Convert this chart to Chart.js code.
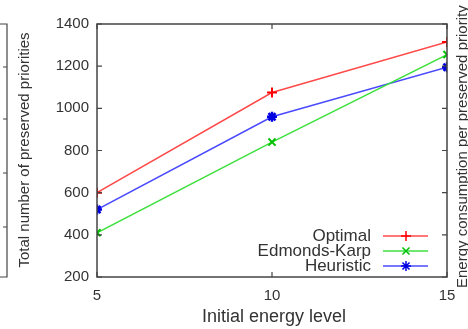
<!DOCTYPE html>
<html>
<head>
<meta charset="utf-8">
<script src="https://cdn.jsdelivr.net/npm/chart.js@4.4.1/dist/chart.umd.min.js"></script>
<style>
  html, body { margin: 0; padding: 0; background: #fff; }
  #wrap { width: 468px; height: 329px; }
</style>
</head>
<body>
<div id="wrap"><canvas id="energy-chart" width="468" height="329"></canvas></div>
<script>
// values
const energyLevels = [5, 10, 15];
const optimal = [600, 1075, 1315];
const edmondsKarp = [410, 840, 1255];
const heuristic = [520, 960, 1195];
const yTicks = [200, 400, 600, 800, 1000, 1200, 1400];

const FONT = '"Liberation Sans", Arial, Helvetica, sans-serif';
const INK = '#333';

// gnuplot-ish frame: border, inward ticks on all four sides, titles, legend
const framePlugin = {
  id: 'frame',
  afterDraw(chart) {
    const c = chart.ctx;
    const a = chart.chartArea;
    const xs = chart.scales.x, ys = chart.scales.y;
    c.save();
    c.strokeStyle = '#444';
    c.lineWidth = 1.5;
    c.strokeRect(a.left, a.top, a.right - a.left, a.bottom - a.top);

    // inward ticks
    c.lineWidth = 1.2;
    c.beginPath();
    yTicks.forEach(v => {
      const y = ys.getPixelForValue(v);
      c.moveTo(a.left, y); c.lineTo(a.left + 5, y);
      c.moveTo(a.right, y); c.lineTo(a.right - 5, y);
    });
    energyLevels.forEach(v => {
      const x = xs.getPixelForValue(v);
      c.moveTo(x, a.bottom); c.lineTo(x, a.bottom - 5);
      c.moveTo(x, a.top); c.lineTo(x, a.top + 5);
    });
    c.stroke();

    // edge of the neighbouring panel on the left
    c.beginPath();
    c.moveTo(0, a.top); c.lineTo(7, a.top); c.lineTo(7, a.bottom); c.lineTo(0, a.bottom);
    [67, 119, 173, 227].forEach(y => { c.moveTo(7, y); c.lineTo(3, y); });
    c.stroke();

    c.fillStyle = INK;
    // x title
    c.font = '18px ' + FONT;
    c.textAlign = 'center';
    c.textBaseline = 'middle';
    c.fillText('Initial energy level', (a.left + a.right) / 2 + 2, 317);

    // y title
    c.font = '15px ' + FONT;
    c.save();
    c.translate(25, 150);
    c.rotate(-Math.PI / 2);
    c.fillText('Total number of preserved priorities', 0, 0);
    c.restore();

    // title of the neighbouring panel, cut at the right edge
    c.save();
    c.translate(463, 288);
    c.rotate(-Math.PI / 2);
    c.textAlign = 'left';
    c.fillText('Energy consumption per preserved priority', 0, 0);
    c.restore();

    // legend, text right-aligned with the sample on the right
    const rows = [236, 251, 266];
    c.font = '17px ' + FONT;
    chart.data.datasets.forEach((ds, i) => {
      const y = rows[i];
      c.fillStyle = INK;
      c.textAlign = 'right';
      c.fillText(ds.label, 371, y);
      c.strokeStyle = ds.borderColor;
      c.lineWidth = ds.borderWidth;
      c.beginPath(); c.moveTo(383, y); c.lineTo(428, y); c.stroke();
      c.strokeStyle = ds.pointBorderColor;
      c.fillStyle = ds.pointBorderColor;
      Chart.helpers.drawPoint(c, {
        pointStyle: ds.pointStyle,
        radius: ds.pointRadius,
        borderWidth: 2
      }, 406, y);
    });
    c.restore();
  }
};

new Chart(document.getElementById('energy-chart'), {
  type: 'line',
  data: {
    datasets: [
      {
        label: 'Optimal',
        data: energyLevels.map((x, i) => ({ x, y: optimal[i] })),
        borderColor: '#ff4a4a',
        pointBorderColor: '#ff0000',
        pointBackgroundColor: '#ff0000',
        pointStyle: 'cross',
        pointRadius: 5,
        pointBorderWidth: 2,
        borderWidth: 1.5
      },
      {
        label: 'Edmonds-Karp',
        data: energyLevels.map((x, i) => ({ x, y: edmondsKarp[i] })),
        borderColor: '#3ee03e',
        pointBorderColor: '#00c000',
        pointBackgroundColor: '#00c000',
        pointStyle: 'crossRot',
        pointRadius: 5,
        pointBorderWidth: 2,
        borderWidth: 1.5
      },
      {
        label: 'Heuristic',
        data: energyLevels.map((x, i) => ({ x, y: heuristic[i] })),
        borderColor: '#4a4aff',
        pointBorderColor: '#0000e0',
        pointBackgroundColor: '#0000e0',
        pointStyle: 'star',
        pointRadius: 5,
        pointBorderWidth: 2.5,
        borderWidth: 1.5
      }
    ]
  },
  options: {
    responsive: false,
    animation: false,
    layout: { padding: { top: 24, right: 21, left: 0, bottom: 0 } },
    plugins: {
      legend: { display: false },
      tooltip: { enabled: false }
    },
    scales: {
      x: {
        type: 'linear',
        min: 5,
        max: 15,
        afterBuildTicks: s => { s.ticks = energyLevels.map(v => ({ value: v })); },
        afterFit: s => { s.height = 52; },
        grid: { display: false, drawTicks: false },
        border: { display: false },
        ticks: { color: INK, font: { family: FONT, size: 15 }, padding: 10, maxRotation: 0,
                 callback: v => String(v) }
      },
      y: {
        min: 200,
        max: 1400,
        afterBuildTicks: s => { s.ticks = yTicks.map(v => ({ value: v })); },
        afterFit: s => { s.width = 97; },
        grid: { display: false, drawTicks: false },
        border: { display: false },
        ticks: { color: INK, font: { family: FONT, size: 15 }, padding: 8,
                 callback: v => String(v) }
      }
    }
  },
  plugins: [framePlugin]
});
</script>
</body>
</html>
